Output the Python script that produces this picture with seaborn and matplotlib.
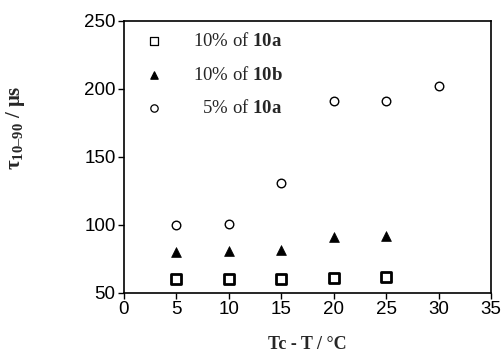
import matplotlib
matplotlib.use("Agg")
import matplotlib.pyplot as plt
import seaborn as sns
import pandas as pd

# data
x_sq = [5, 10, 15, 20, 25]
y_sq = [60, 60, 60, 61, 62]
x_tri = [5, 10, 15, 20, 25]
y_tri = [80, 81, 81.5, 91, 92]
x_circ = [5, 10, 15, 20, 25, 30]
y_circ = [100, 101, 131, 191, 191, 202]
labels = ["10% of $\\mathbf{10a}$", "10% of $\\mathbf{10b}$", "  5% of $\\mathbf{10a}$"]
xticks = [0, 5, 10, 15, 20, 25, 30, 35]
yticks = [50, 100, 150, 200, 250]

sns.set_style("ticks")
plt.rcParams["font.family"] = ["Liberation Sans", "DejaVu Sans"]
plt.rcParams["mathtext.fontset"] = "custom"
plt.rcParams["mathtext.rm"] = "Liberation Serif"
plt.rcParams["mathtext.bf"] = "Liberation Serif:bold"
plt.rcParams["mathtext.it"] = "Liberation Serif:italic"

fig = plt.figure(figsize=(5.03, 3.55), dpi=100)
ax = fig.add_axes([0.2465, 0.175, 0.73, 0.766])

df_sq = pd.DataFrame({"x": x_sq, "y": y_sq})
df_tri = pd.DataFrame({"x": x_tri, "y": y_tri})
df_circ = pd.DataFrame({"x": x_circ, "y": y_circ})

sns.scatterplot(data=df_sq, x="x", y="y", ax=ax, marker="s", s=48,
                facecolor="white", edgecolor="black", linewidth=2.0, label=labels[0])
sns.scatterplot(data=df_tri, x="x", y="y", ax=ax, marker="^", s=50,
                color="black", edgecolor="black", linewidth=0.5, label=labels[1])
sns.scatterplot(data=df_circ, x="x", y="y", ax=ax, marker="o", s=38,
                facecolor="white", edgecolor="black", linewidth=1.0, label=labels[2])

ax.set_xlim(0, 35)
ax.set_ylim(50, 250)
ax.set_xticks(xticks)
ax.set_yticks(yticks)
ax.tick_params(axis="both", direction="out", length=4, width=1, labelsize=13.5,
               colors="black", pad=2)
for s in ax.spines.values():
    s.set_color("black")
    s.set_linewidth(1.2)

ax.set_xlabel("Tc - T / °C", fontfamily="Liberation Serif", fontweight="bold", fontsize=13)
ax.set_ylabel("$\\mathbf{\\tau_{10\\endash90}}$ / $\\mathbf{\\mu s}$", fontfamily="Liberation Serif",
              fontweight="bold", fontsize=15)
ax.xaxis.set_label_coords(0.5, -0.16)
ax.yaxis.set_label_coords(-0.265, 0.607)

leg = ax.legend(loc="upper left", frameon=False, fontsize=13.5, handletextpad=1.3,
                labelspacing=0.82, borderaxespad=0.2, bbox_to_anchor=(0.014, 1.0),
                handlelength=1.5)
for t in leg.get_texts():
    t.set_fontfamily("Liberation Serif")
for h in leg.legend_handles:
    h.set_sizes([28])
    h.set_linewidth(0.9)

fig.savefig("out.png", dpi=100)
